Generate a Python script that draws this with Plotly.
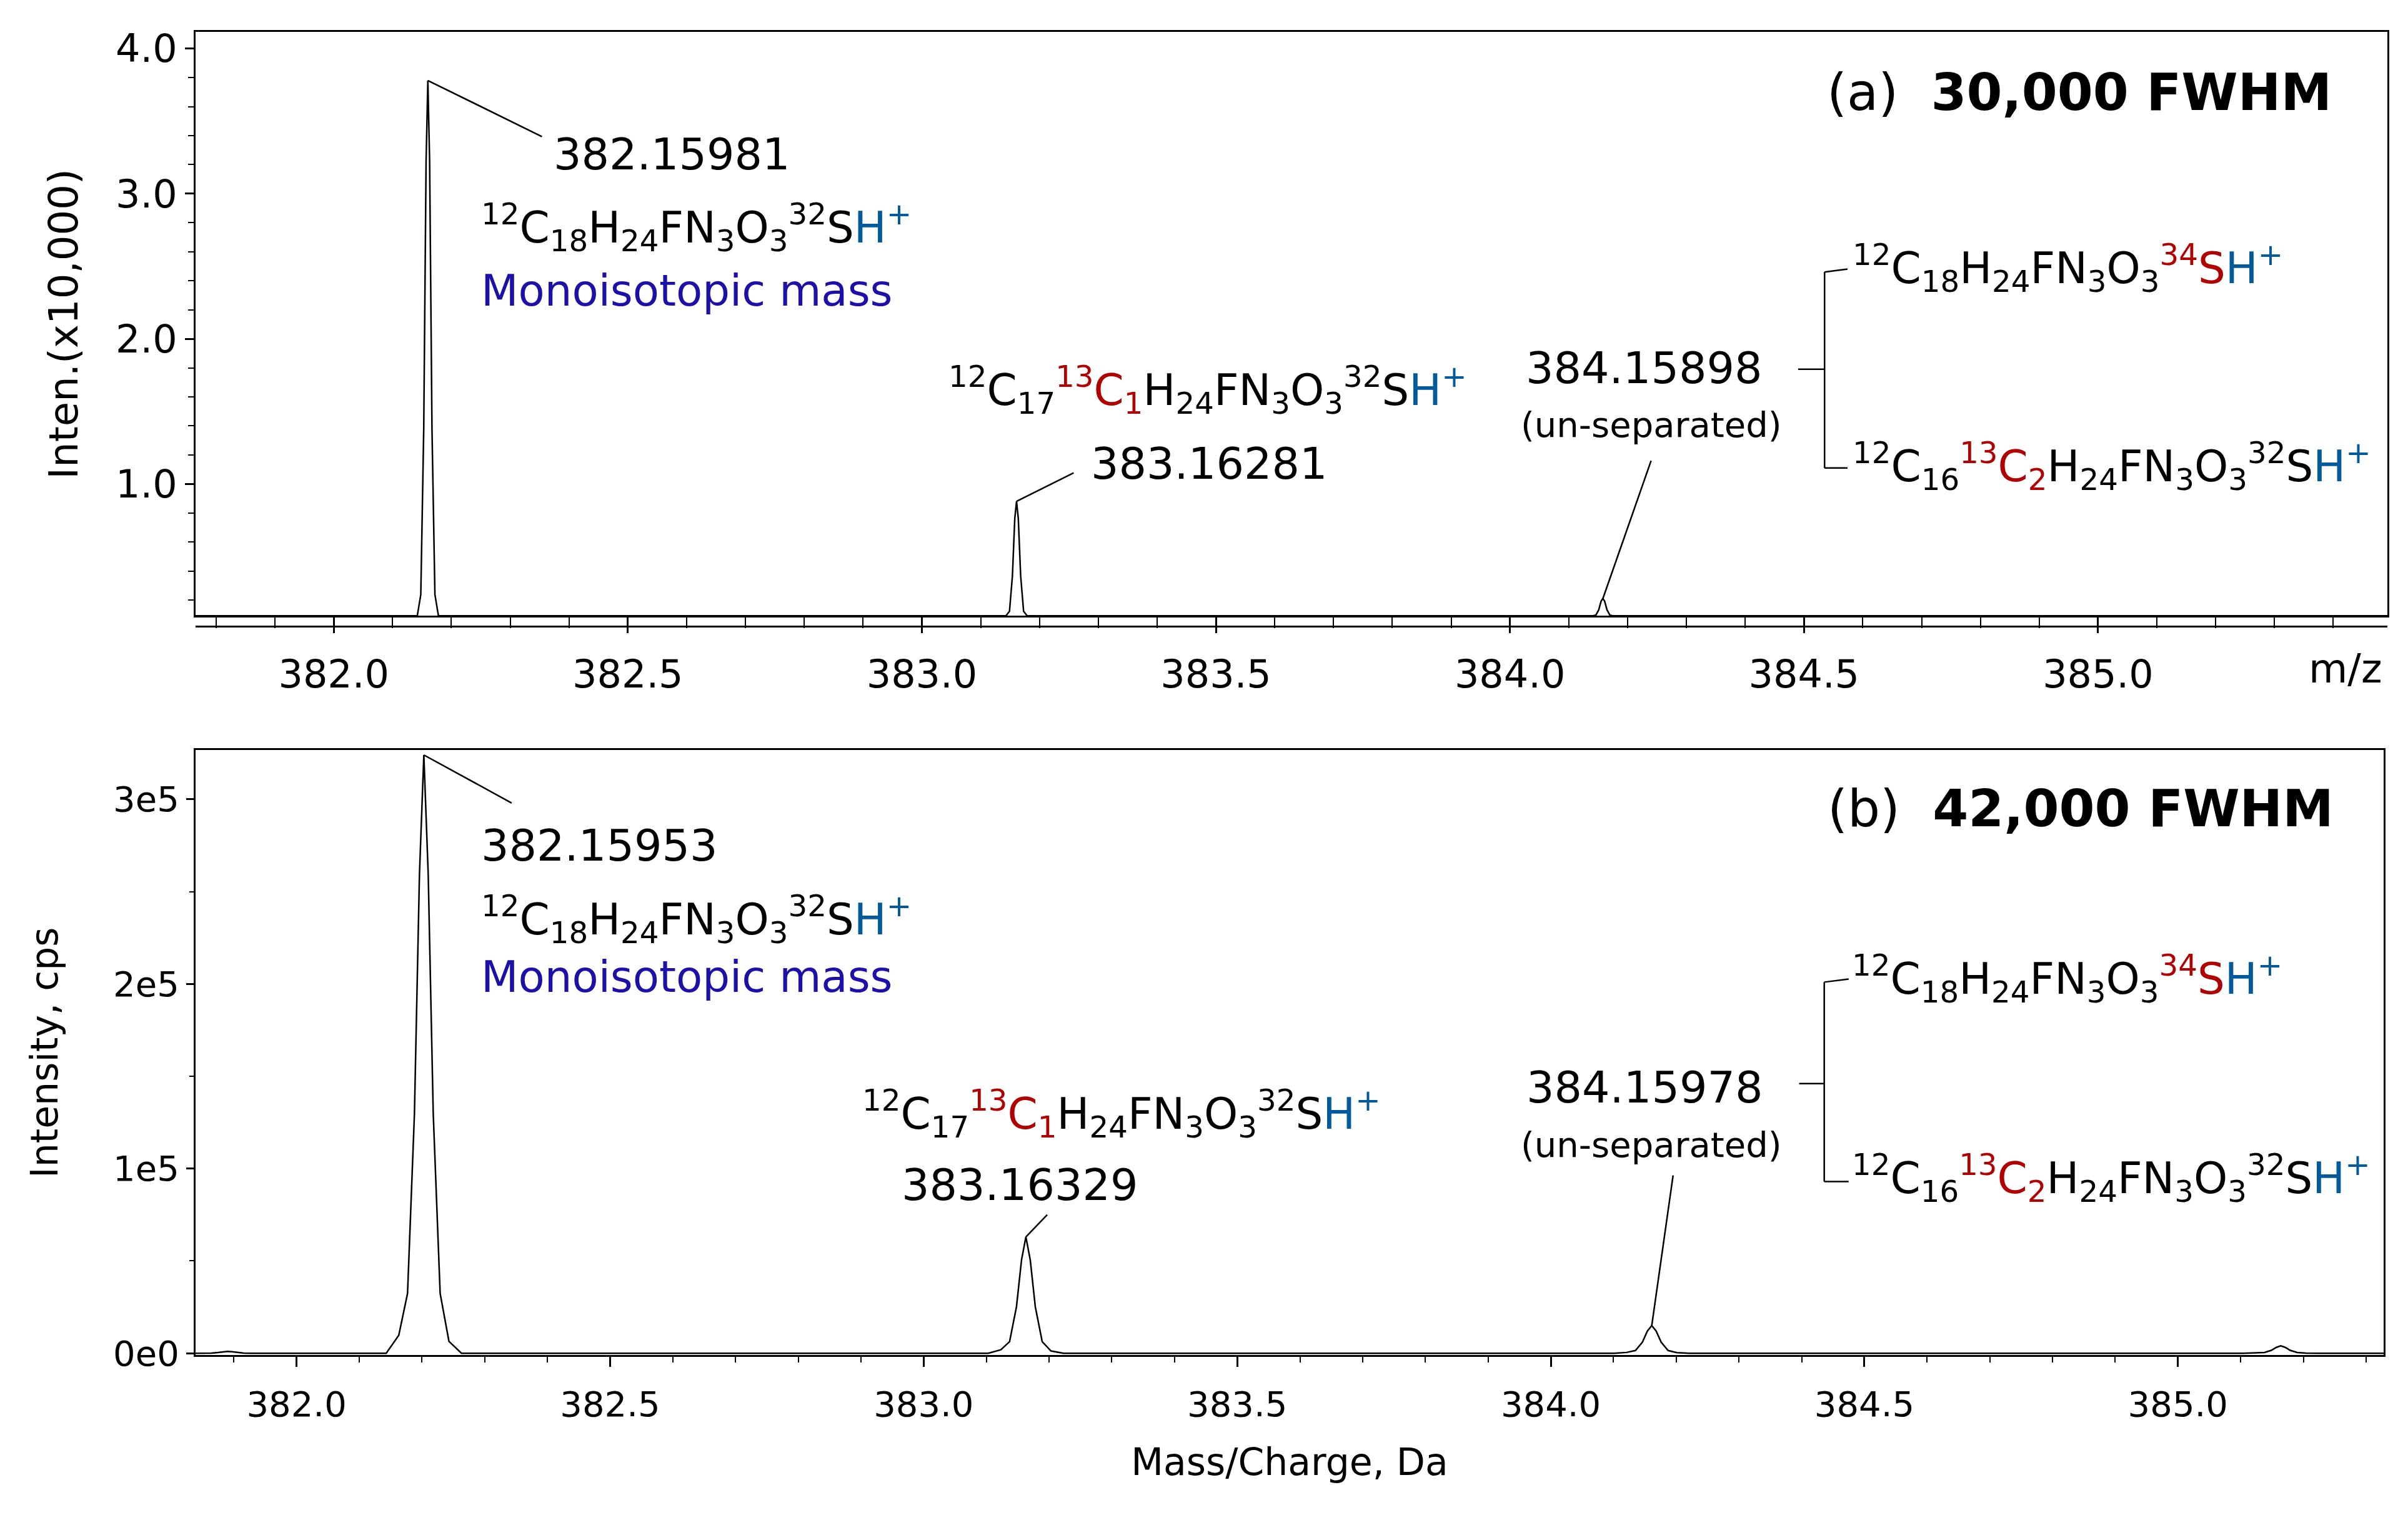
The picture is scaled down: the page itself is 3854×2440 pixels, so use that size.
import plotly.graph_objects as go

# ---- data ----
top_centers = [382.160, 383.161, 384.158]
top_heights = [3.78, 0.88, 0.21]                 # x10,000
bot_centers = [381.890, 382.203, 383.163, 384.161, 385.164]
bot_heights = [0.010, 3.24, 0.63, 0.15, 0.04]    # x1e5
top_shape_dx = [-0.018, -0.012, -0.007, -0.003, 0.0, 0.003, 0.007, 0.012, 0.018]
top_shape_rel = [0.0, 0.04, 0.35, 0.85, 1.0, 0.85, 0.35, 0.04, 0.0]
bot_shape_dx = [-0.06, -0.04, -0.026, -0.015, -0.007, 0.0, 0.007, 0.015, 0.026, 0.04, 0.06]
bot_shape_rel = [0.0, 0.03, 0.10, 0.40, 0.80, 1.0, 0.80, 0.40, 0.10, 0.02, 0.0]

FONT = "DejaVu Sans"
RED = "#b00000"
BLUE = "#005a9c"
MONO = "#1c10a8"

def profile(centers, heights, dx, rel, x0, x1, base):
    xs, ys = [x0], [base]
    for c, h in zip(centers, heights):
        for d, r in zip(dx, rel):
            xs.append(c + d); ys.append(base + (h - base) * r if h > base else base)
    xs.append(x1); ys.append(base)
    return xs, ys

TX0, TX1 = 381.765, 385.492
BX0, BX1 = 381.839, 385.328
TY0, TY1 = 0.091, 4.113
BY0, BY1 = -0.01e5, 3.266e5

fig = go.Figure()
tx, ty = profile(top_centers, top_heights, top_shape_dx, top_shape_rel, TX0, TX1, TY0)
bx, by = profile(bot_centers, [h * 1e5 for h in bot_heights], bot_shape_dx, bot_shape_rel, BX0, BX1, 0.0)
fig.add_trace(go.Scatter(x=tx, y=ty, mode="lines", line=dict(color="black", width=2.5), xaxis="x", yaxis="y", showlegend=False))
fig.add_trace(go.Scatter(x=bx, y=by, mode="lines", line=dict(color="black", width=2.5), xaxis="x2", yaxis="y2", showlegend=False))
fig.add_trace(go.Scatter(x=[BX0 - 0.012], y=[0.07e5], mode="markers", marker=dict(symbol="triangle-right", size=24, color="#1030d0"),
                         cliponaxis=False, xaxis="x2", yaxis="y2", showlegend=False))

def sty(t, c): return f"<span style='color:{c}'>{t}</span>"
f_mono = "<sup>12</sup>C<sub>18</sub>H<sub>24</sub>FN<sub>3</sub>O<sub>3</sub><sup>32</sup>S" + sty("H<sup>+</sup>", BLUE)
f_13c1 = "<sup>12</sup>C<sub>17</sub>" + sty("<sup>13</sup>C<sub>1</sub>", RED) + "H<sub>24</sub>FN<sub>3</sub>O<sub>3</sub><sup>32</sup>S" + sty("H<sup>+</sup>", BLUE)
f_34s = "<sup>12</sup>C<sub>18</sub>H<sub>24</sub>FN<sub>3</sub>O<sub>3</sub>" + sty("<sup>34</sup>S", RED) + sty("H<sup>+</sup>", BLUE)
f_13c2 = "<sup>12</sup>C<sub>16</sub>" + sty("<sup>13</sup>C<sub>2</sub>", RED) + "H<sub>24</sub>FN<sub>3</sub>O<sub>3</sub><sup>32</sup>S" + sty("H<sup>+</sup>", BLUE)

ann = []
def A(x, y, t, ax="x", ay="y", xa="left", size=69, color="black"):
    ann.append(dict(x=x, y=y, xref=ax, yref=ay, text=t, showarrow=False, xanchor=xa, yanchor="middle",
                    font=dict(family=FONT, size=size, color=color)))

# top panel
A(382.372, 3.27, "382.15981", size=70)
A(382.248, 2.77, f_mono)
A(382.248, 2.33, "Monoisotopic mass", color=MONO)
A(383.043, 1.65, f_13c1)
A(383.285, 1.14, "383.16281", size=70)
A(384.228, 1.80, "384.15898", xa="center", size=70)
A(384.240, 1.41, "(un-separated)", xa="center", size=56)
A(384.580, 2.49, f_34s)
A(384.580, 1.125, f_13c2)
A(385.40, 3.70, "(a)  <b>30,000 FWHM</b>", xa="right", size=82)
# bottom panel
A(382.292, 2.75e5, "382.15953", "x2", "y2", size=70)
A(382.292, 2.35e5, f_mono, "x2", "y2")
A(382.292, 2.04e5, "Monoisotopic mass", "x2", "y2", color=MONO)
A(382.900, 1.30e5, f_13c1, "x2", "y2")
A(383.154, 0.91e5, "383.16329", "x2", "y2", xa="center", size=70)
A(384.150, 1.44e5, "384.15978", "x2", "y2", xa="center", size=70)
A(384.160, 1.13e5, "(un-separated)", "x2", "y2", xa="center", size=56)
A(384.478, 2.03e5, f_34s, "x2", "y2")
A(384.478, 0.95e5, f_13c2, "x2", "y2")
A(385.25, 2.95e5, "(b)  <b>42,000 FWHM</b>", "x2", "y2", xa="right", size=82)
ann.append(dict(x=3746/3854, y=1-1070/2440, xref="paper", yref="paper", text="m/z", showarrow=False,
                font=dict(family=FONT, size=64, color="black"), xanchor="center", yanchor="middle"))

shapes = []
def L(x0, y0, x1, y1, ax="x", ay="y", w=2.5):
    shapes.append(dict(type="line", x0=x0, y0=y0, x1=x1, y1=y1, xref=ax, yref=ay, line=dict(color="black", width=w)))
L(382.160, 3.78, 382.354, 3.393)
L(383.161, 0.88, 383.258, 1.076)
L(384.158, 0.21, 384.240, 1.16)
L(382.203, 3.24e5, 382.343, 2.98e5, "x2", "y2")
L(383.163, 0.63e5, 383.197, 0.75e5, "x2", "y2")
L(384.161, 0.15e5, 384.195, 0.963e5, "x2", "y2")
for (xb, yt, ym, yb, xm, xh, ax, ay) in [(384.535, 2.46, 1.79, 1.11, 384.49, 384.574, "x", "y"),
                                          (384.436, 2.01e5, 1.46e5, 0.93e5, 384.396, 384.475, "x2", "y2")]:
    L(xb, yt, xb, yb, ax, ay)
    L(xm, ym, xb, ym, ax, ay)
    L(xb, yt, xh, yt + (yt - yb) * 0.015, ax, ay)
    L(xb, yb, xh, yb, ax, ay)
# top axis tick strip lower line
shapes.append(dict(type="line", x0=305/3854, x1=3813/3854, y0=1-1001/2440, y1=1-1001/2440, xref="paper", yref="paper",
                   line=dict(color="black", width=3)))

tickf = dict(family=FONT, size=62, color="black")
titf = dict(family=FONT, size=60, color="black")
xt = [382, 382.5, 383, 383.5, 384, 384.5, 385]
xl = ["382.0", "382.5", "383.0", "383.5", "384.0", "384.5", "385.0"]
fig.update_layout(
    width=3854, height=2440, paper_bgcolor="white", plot_bgcolor="white",
    margin=dict(l=0, r=0, t=0, b=0), annotations=ann, shapes=shapes,
    xaxis=dict(domain=[305/3854, 3813/3854], anchor="y", range=[TX0, TX1], tickvals=xt, ticktext=xl,
               showline=True, linecolor="black", linewidth=3, mirror=True, ticks="outside", ticklen=25, tickwidth=3,
               minor=dict(dtick=0.1, ticks="outside", ticklen=17, tickwidth=2, tickcolor="black"),
               tickcolor="black", showgrid=False, zeroline=False, tickfont=tickf, ticklabelstandoff=12),
    yaxis=dict(domain=[1-983.5/2440, 1-34/2440], anchor="x", range=[TY0, TY1], tickvals=[1, 2, 3, 4],
               ticktext=["1.0", "2.0", "3.0", "4.0"], showline=True, linecolor="black", linewidth=3, mirror=True,
               ticks="outside", ticklen=14, tickwidth=3, tickcolor="black",
               minor=dict(dtick=0.2, ticks="outside", ticklen=9, tickwidth=2, tickcolor="black"),
               showgrid=False, zeroline=False, tickfont=tickf,
               title=dict(text="Inten.(x10,000)", font=dict(family=FONT, size=64, color="black"), standoff=40)),
    xaxis2=dict(domain=[305/3854, 3807/3854], anchor="y2", range=[BX0, BX1], tickvals=xt, ticktext=xl,
                showline=True, linecolor="black", linewidth=3, mirror=True, ticks="outside", ticklen=16, tickwidth=3,
                tickcolor="black", minor=dict(dtick=0.1, ticks="outside", ticklen=9, tickwidth=2, tickcolor="black"),
                showgrid=False, zeroline=False, tickfont=dict(family=FONT, size=56, color="black"), ticklabelstandoff=12,
                title=dict(text="Mass/Charge, Da", font=titf, standoff=40)),
    yaxis2=dict(domain=[1-2186/2440, 1-1202/2440], anchor="x2", range=[BY0, BY1], tickvals=[0, 1e5, 2e5, 3e5],
                ticktext=["0e0", "1e5", "2e5", "3e5"], showline=True, linecolor="black", linewidth=3, mirror=True,
                ticks="outside", ticklen=12, tickwidth=3, tickcolor="black",
                minor=dict(dtick=0.5e5, ticks="outside", ticklen=7, tickwidth=2, tickcolor="black"),
                showgrid=False, zeroline=False, tickfont=dict(family=FONT, size=56, color="black"),
                title=dict(text="Intensity, cps", font=titf, standoff=70)),
)
fig.write_html("out.html")
